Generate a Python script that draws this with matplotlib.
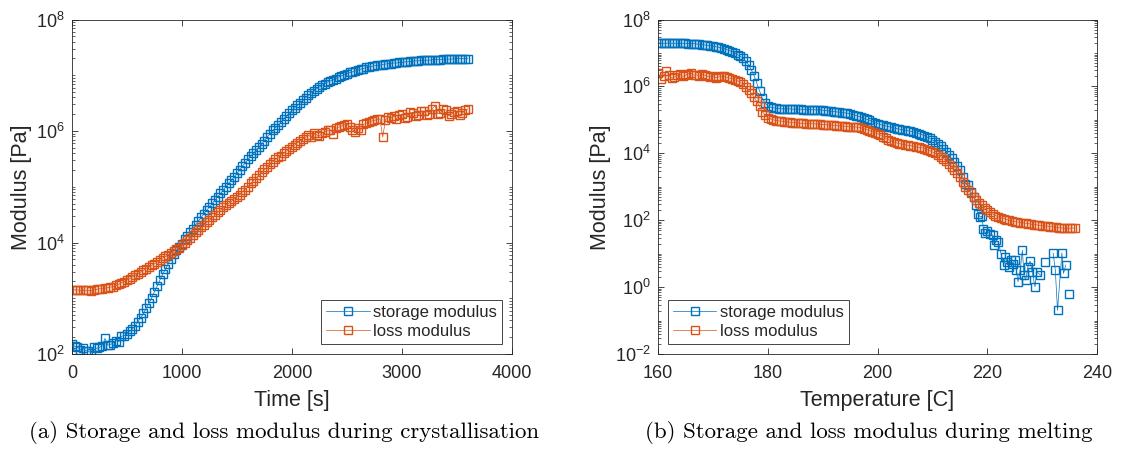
import numpy as np
import matplotlib
matplotlib.use("Agg")
import matplotlib.pyplot as plt
from matplotlib.ticker import LogLocator, NullFormatter, FixedLocator

# MATLAB-like default colours
BLUE = "#0072BD"
ORANGE = "#D95319"
AXCOL = "#262626"

plt.rcParams['font.family'] = ['Liberation Sans', 'DejaVu Sans']
plt.rcParams['mathtext.fontset'] = 'custom'
plt.rcParams['mathtext.rm'] = 'Liberation Sans'
plt.rcParams['mathtext.default'] = 'regular'

# ---- crystallisation: log10 of modulus [Pa], sampled every 25 s ----
time_s = np.arange(0, 3601, 25)
log_storage_cryst = [
    2.18, 2.14, 2.12, 2.08, 2.10, 2.06, 2.05, 2.02,
    2.13, 2.10, 2.12, 2.15, 2.28, 2.16, 2.17, 2.20,
    2.24, 2.22, 2.32, 2.33, 2.36, 2.41, 2.45, 2.51,
    2.58, 2.65, 2.73, 2.82, 2.91, 3.01, 3.12, 3.22,
    3.33, 3.43, 3.52, 3.62, 3.71, 3.79, 3.86, 3.92,
    3.98, 4.06, 4.12, 4.18, 4.25, 4.32, 4.39, 4.45,
    4.52, 4.58, 4.64, 4.70, 4.76, 4.82, 4.88, 4.94,
    5.00, 5.06, 5.12, 5.18, 5.24, 5.30, 5.37, 5.43,
    5.49, 5.55, 5.60, 5.66, 5.71, 5.77, 5.83, 5.89,
    5.95, 6.01, 6.06, 6.11, 6.16, 6.22, 6.27, 6.32,
    6.37, 6.42, 6.46, 6.51, 6.55, 6.60, 6.64, 6.68,
    6.72, 6.76, 6.79, 6.82, 6.85, 6.88, 6.90, 6.92,
    6.94, 6.97, 6.99, 7.01, 7.03, 7.05, 7.06, 7.08,
    7.09, 7.11, 7.12, 7.14, 7.15, 7.16, 7.17, 7.18,
    7.18, 7.19, 7.20, 7.21, 7.21, 7.22, 7.22, 7.23,
    7.23, 7.24, 7.24, 7.25, 7.25, 7.26, 7.26, 7.27,
    7.27, 7.27, 7.27, 7.28, 7.28, 7.28, 7.28, 7.29,
    7.29, 7.29, 7.29, 7.30, 7.30, 7.30, 7.30, 7.30,
    7.30,
]
log_loss_cryst = [
    3.15, 3.15, 3.15, 3.14, 3.14, 3.14, 3.14, 3.13,
    3.15, 3.16, 3.17, 3.17, 3.18, 3.19, 3.20, 3.21,
    3.23, 3.25, 3.28, 3.30, 3.33, 3.35, 3.38, 3.41,
    3.44, 3.47, 3.50, 3.53, 3.56, 3.59, 3.62, 3.65,
    3.68, 3.72, 3.75, 3.78, 3.81, 3.85, 3.88, 3.91,
    3.95, 3.99, 4.04, 4.09, 4.13, 4.18, 4.22, 4.27,
    4.31, 4.36, 4.40, 4.45, 4.49, 4.54, 4.58, 4.63,
    4.67, 4.70, 4.74, 4.78, 4.82, 4.86, 4.91, 4.95,
    5.00, 5.06, 5.11, 5.16, 5.21, 5.26, 5.31, 5.35,
    5.40, 5.45, 5.49, 5.53, 5.56, 5.60, 5.64, 5.68,
    5.71, 5.75, 5.79, 5.83, 5.86, 5.89, 5.92, 5.90,
    5.96, 5.93, 5.91, 5.97, 5.99, 6.01, 6.02, 5.95,
    6.05, 6.07, 6.09, 6.11, 6.12, 6.08, 6.02, 5.98,
    6.06, 6.01, 6.12, 6.14, 6.16, 6.18, 6.19, 6.21,
    6.22, 5.89, 6.20, 6.25, 6.24, 6.27, 6.22, 6.29,
    6.30, 6.24, 6.26, 6.34, 6.33, 6.27, 6.29, 6.36,
    6.36, 6.28, 6.30, 6.40, 6.45, 6.31, 6.33, 6.39,
    6.38, 6.27, 6.30, 6.35, 6.36, 6.28, 6.33, 6.37,
    6.40,
]

# ---- melting: log10 of modulus [Pa] vs temperature [C] ----
# storage modulus: 0.5 C steps up to 215 C, then the scattered tail
temp_storage = list(np.arange(160, 215.01, 0.5)) + [
    215.5, 216, 216.5, 217, 217.5, 218, 218.3, 218.7, 219, 219.3,
    219.6, 220, 220.5, 221, 221.3, 221.6, 222, 222.5, 223, 223.3,
    223.6, 224, 224.3, 224.6, 225, 225.3, 225.6, 226, 226.4, 226.7,
    227, 227.4, 227.8, 228.2, 228.7, 229, 229.7, 230.2, 230.6, 231.2,
    232.0, 232.4, 232.8, 233.6, 233.9, 234.3, 234.6, 234.9,
]
log_storage_melt = [
    7.29, 7.30, 7.29, 7.29, 7.30, 7.29, 7.29, 7.29, 7.29, 7.29,
    7.29, 7.28, 7.28, 7.28, 7.27, 7.26, 7.25, 7.24, 7.23, 7.22,
    7.20, 7.19, 7.17, 7.15, 7.13, 7.10, 7.07, 7.04, 7.00, 6.95,
    6.90, 6.84, 6.76, 6.65, 6.50, 6.32, 6.10, 5.87, 5.65, 5.50,
    5.42, 5.38, 5.36, 5.35, 5.34, 5.33, 5.33, 5.33, 5.33, 5.32,
    5.32, 5.32, 5.32, 5.31, 5.31, 5.31, 5.31, 5.30, 5.30, 5.30,
    5.29, 5.28, 5.27, 5.26, 5.25, 5.24, 5.23, 5.22, 5.21, 5.20,
    5.18, 5.16, 5.13, 5.11, 5.08, 5.05, 5.02, 4.99, 4.95, 4.92,
    4.89, 4.86, 4.84, 4.82, 4.80, 4.78, 4.76, 4.74, 4.72, 4.71,
    4.69, 4.68, 4.66, 4.64, 4.62, 4.59, 4.56, 4.53, 4.49, 4.45,
    4.40, 4.35, 4.29, 4.22, 4.14, 4.05, 3.94, 3.85, 3.74, 3.62,
    3.49,
    3.30, 3.09, 3.05, 2.85, 2.70, 2.45, 2.20, 2.10, 2.12, 1.75,
    1.62, 1.68, 1.60, 1.55, 1.25, 1.40, 1.35, 1.00, 0.66, 0.90,
    0.75, 0.61, 0.80, 0.70, 0.81, 0.50, 0.16, 0.51, 1.10, 0.35,
    0.21, 0.61, 0.78, 0.45, 0.01, 0.46, 0.36, np.nan, 0.76, np.nan,
    1.02, 0.51, -0.69, 1.02, 0.41, 0.66, np.nan, -0.21,
]
# loss modulus: 0.5 C steps over the whole run
temp_loss = np.arange(160, 236.01, 0.5)
log_loss_melt = [
    6.40, 6.22, 6.30, 6.45, 6.35, 6.25, 6.28, 6.33, 6.36, 6.30,
    6.33, 6.38, 6.40, 6.34, 6.35, 6.31, 6.36, 6.33, 6.30, 6.28,
    6.32, 6.26, 6.28, 6.31, 6.30, 6.27, 6.25, 6.23, 6.20, 6.17,
    6.12, 6.06, 5.98, 5.90, 5.80, 5.68, 5.55, 5.40, 5.25, 5.14,
    5.07, 5.03, 5.00, 4.98, 4.97, 4.96, 4.95, 4.94, 4.93, 4.92,
    4.91, 4.91, 4.90, 4.90, 4.89, 4.89, 4.89, 4.88, 4.88, 4.87,
    4.86, 4.86, 4.85, 4.85, 4.84, 4.83, 4.82, 4.82, 4.81, 4.80,
    4.80, 4.79, 4.79, 4.78, 4.76, 4.74, 4.71, 4.68, 4.65, 4.62,
    4.59, 4.55, 4.50, 4.45, 4.41, 4.37, 4.34, 4.31, 4.29, 4.27,
    4.26, 4.24, 4.23, 4.21, 4.20, 4.18, 4.17, 4.14, 4.11, 4.08,
    4.04, 4.00, 3.95, 3.90, 3.84, 3.77, 3.69, 3.60, 3.49, 3.40,
    3.29, 3.14, 2.99, 2.90, 2.80, 2.70, 2.60, 2.52, 2.45, 2.37,
    2.30, 2.24, 2.18, 2.14, 2.10, 2.07, 2.05, 2.02, 2.00, 1.98,
    1.96, 1.95, 1.93, 1.92, 1.91, 1.90, 1.88, 1.87, 1.86, 1.85,
    1.83, 1.83, 1.82, 1.81, 1.80, 1.79, 1.78, 1.77, 1.76, 1.76,
    1.76, 1.77, 1.76,
]

line_kw = dict(marker='s', markersize=5.5, markerfacecolor='none',
               markeredgewidth=1.0, linewidth=0.5)


def style_axes(ax, xticks, ylim, major_exps):
    ax.set_yscale('log')
    ax.set_ylim(*ylim)
    ax.set_xlim(xticks[0], xticks[-1])
    ax.xaxis.set_major_locator(FixedLocator(xticks))
    ax.yaxis.set_major_locator(FixedLocator([10.0 ** e for e in major_exps]))
    ax.yaxis.set_minor_locator(LogLocator(base=10, subs=np.arange(1, 10), numticks=30))
    ax.yaxis.set_minor_formatter(NullFormatter())
    ax.set_yticklabels([r'$10^{%d}$' % e for e in major_exps])
    ax.tick_params(which='both', direction='in', top=True, right=True,
                   colors=AXCOL, labelsize=13)
    ax.tick_params(which='major', length=4.5, width=0.6)
    ax.tick_params(which='minor', length=2.5, width=0.5)
    ax.tick_params(axis='x', pad=8)
    ax.tick_params(axis='y', pad=5)
    for s in ax.spines.values():
        s.set_color(AXCOL)
        s.set_linewidth(0.6)
    ax.set_ylabel("Modulus [Pa]", fontsize=15.5, color=AXCOL, labelpad=3)


fig = plt.figure(figsize=(11.21, 4.53), dpi=100)
ax1 = fig.add_axes([0.0642, 0.2185, 0.3925, 0.7384])
ax2 = fig.add_axes([0.587, 0.2185, 0.3916, 0.7384])

# (a) crystallisation
ax1.plot(time_s, 10 ** np.array(log_storage_cryst), color=BLUE,
         label='storage modulus', **line_kw)
ax1.plot(time_s, 10 ** np.array(log_loss_cryst), color=ORANGE,
         label='loss modulus', **line_kw)
style_axes(ax1, [0, 1000, 2000, 3000, 4000], (1e2, 1e8), [2, 4, 6, 8])
ax1.set_xlabel("Time [s]", fontsize=15.5, color=AXCOL, labelpad=6)

# (b) melting
ax2.plot(temp_storage, 10 ** np.array(log_storage_melt), color=BLUE,
         label='storage modulus', **line_kw)
ax2.plot(temp_loss, 10 ** np.array(log_loss_melt), color=ORANGE,
         label='loss modulus', **line_kw)
style_axes(ax2, [160, 180, 200, 220, 240], (1e-2, 1e8), [-2, 0, 2, 4, 6, 8])
ax2.set_xlabel("Temperature [C]", fontsize=15.5, color=AXCOL, labelpad=6)

leg_kw = dict(fontsize=12, fancybox=False, framealpha=1, edgecolor=AXCOL,
              borderpad=0.3, labelspacing=0.25, handlelength=2.6,
              handletextpad=0.2, borderaxespad=0.6)
for ax, loc in ((ax1, 'lower right'), (ax2, 'lower left')):
    leg = ax.legend(loc=loc, **leg_kw)
    leg.get_frame().set_linewidth(0.6)
    for t in leg.get_texts():
        t.set_color(AXCOL)

# sub-figure captions
cap_kw = dict(fontsize=16.5, family='cmr10', ha='center', va='center')
fig.text(284 / 1121, 1 - 433 / 453,
         "(a) Storage and loss modulus during crystallisation", **cap_kw)
fig.text(869 / 1121, 1 - 433 / 453,
         "(b) Storage and loss modulus during melting", **cap_kw)

fig.savefig("out.png", dpi=100)
